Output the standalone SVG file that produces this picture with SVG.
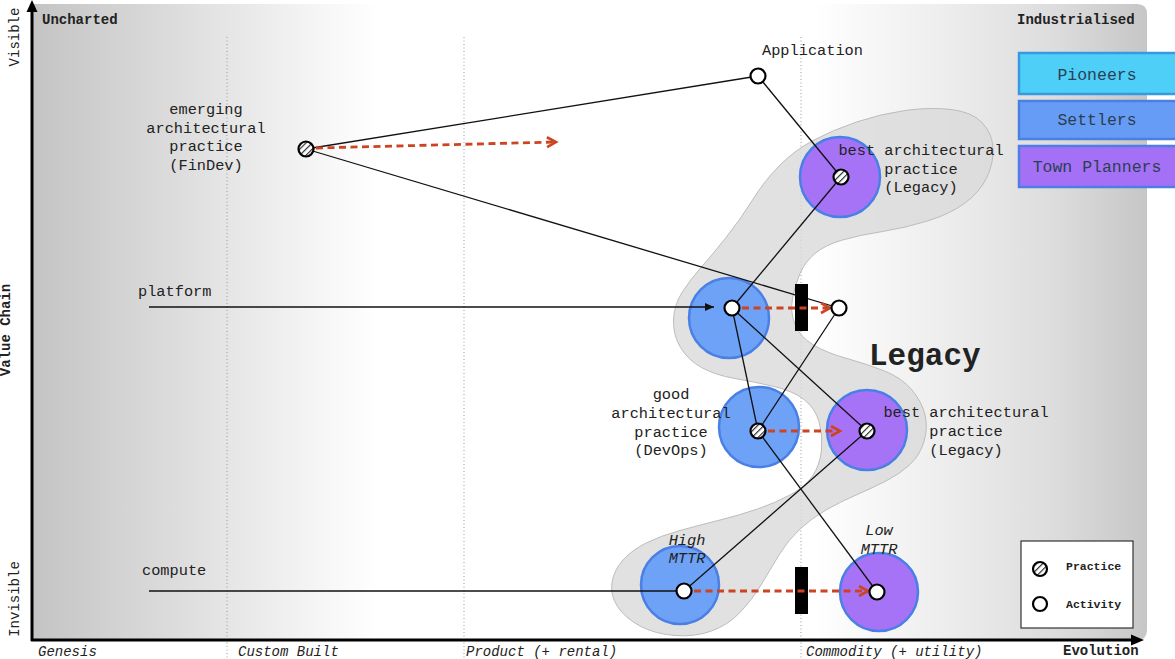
<svg xmlns="http://www.w3.org/2000/svg" width="1175" height="659" viewBox="0 0 1175 659">
<defs>
<linearGradient id="bg" gradientUnits="userSpaceOnUse" x1="33" y1="0" x2="1147" y2="0">
<stop offset="0" stop-color="#c4c4c4"/>
<stop offset="0.105" stop-color="#d8d8d8"/>
<stop offset="0.27" stop-color="#f8f8f8"/>
<stop offset="0.31" stop-color="#ffffff"/>
<stop offset="0.7" stop-color="#ffffff"/>
<stop offset="0.82" stop-color="#ededed"/>
<stop offset="0.92" stop-color="#dcdcdc"/>
<stop offset="1" stop-color="#c6c6c6"/>
</linearGradient>
<pattern id="hatch" patternUnits="userSpaceOnUse" width="4.4" height="4.4" patternTransform="rotate(45)">
<rect width="4.4" height="4.4" fill="#ffffff"/>
<line x1="0" y1="0" x2="0" y2="4.4" stroke="#333" stroke-width="2.4"/>
</pattern>
<marker id="redArrow" markerUnits="userSpaceOnUse" markerWidth="14" markerHeight="14" refX="11" refY="6" orient="auto">
<path d="M2,1 L11,6 L2,11" fill="none" stroke="#cc4422" stroke-width="2.6"/>
</marker>
<marker id="blkArrow" markerUnits="userSpaceOnUse" markerWidth="10" markerHeight="10" refX="9" refY="4" orient="auto">
<path d="M0,0 L9,4 L0,8 Z" fill="#111"/>
</marker>
<style>
.mono{font-family:"Liberation Mono","Courier New",monospace;fill:#222}
.lbl{font-size:15.3px}
.mid{text-anchor:middle}
.ax{font-size:14px}
.it{font-style:italic}
.b{font-weight:bold}
.dot{stroke:#9a9a9a;stroke-width:1;stroke-dasharray:1 2.5;fill:none}
.con{stroke:#111;stroke-width:1.3;fill:none}
.red{stroke:#cc4422;stroke-width:2.8;stroke-dasharray:7 4.5;fill:none;marker-end:url(#redArrow)}
.prac{fill:url(#hatch);stroke:#000;stroke-width:2.2}
.act{fill:#fff;stroke:#000;stroke-width:2.2}
.blue{fill:#6ea2f6;stroke:#4a80e6;stroke-width:2.5}
.purp{fill:#a773f6;stroke:#4a80e6;stroke-width:2.5}
.bar{fill:#000}
.leg{font-size:16.5px;text-anchor:middle;fill:#2b3f52}
</style>
</defs>

<!-- background -->
<path d="M33,4 H1137 Q1147,4 1147,14 V630 Q1147,640 1137,640 H33 Z" fill="url(#bg)"/>

<!-- evolution dividers -->
<g id="dividers">
<line class="dot" x1="227" y1="37" x2="227" y2="659"/>
<line class="dot" x1="464" y1="37" x2="464" y2="659"/>
<line class="dot" x1="801" y1="37" x2="801" y2="659"/>
</g>

<!-- legacy blob -->
<g id="legacy-region">
<path d="M 814,140 Q 833,130 856.5,122 Q 880,114 905,110.5 Q 930,107 951,109.5 Q 972,112 982,122.5 Q 992,133 993,147.5 Q 994,162 987,177 Q 980,192 965,203 Q 950,214 927.5,221 Q 905,228 882.5,231.5 Q 860,235 842.5,240 Q 825,245 815,253.5 Q 805,262 800,273.5 Q 795,285 792.5,298.5 Q 790,312 795,324.5 Q 800,337 813.5,345 Q 827,353 847,358.5 Q 867,364 884.5,371 Q 902,378 912,390 Q 922,402 925,415 Q 928,428 924,441.5 Q 920,455 910,464.5 Q 900,474 885,481.5 Q 870,489 855,495.5 Q 840,502 826,510 Q 812,518 800,529 Q 788,540 779,555 Q 770,570 761,585 Q 752,600 740,612.5 Q 728,625 711.5,631 Q 695,637 675,635.5 Q 655,634 640,626 Q 625,618 617.5,606.5 Q 610,595 612,582.5 Q 614,570 623,560 Q 632,550 646,543 Q 660,536 680,530.5 Q 700,525 720,520 Q 740,515 757.5,509 Q 775,503 790,495 Q 805,487 812.5,476 Q 820,465 821.5,450 Q 823,435 819,421.5 Q 815,408 804,399.5 Q 793,391 774,386.5 Q 755,382 735,378.5 Q 715,375 701.5,367.5 Q 688,360 680.5,347.5 Q 673,335 673.5,320 Q 674,305 682,292.5 Q 690,280 701,267.5 Q 712,255 726,237.5 Q 740,220 752.5,200 Q 765,180 780,165 Q 795,150 814,140 Z" fill="#d9d9d9" fill-opacity="0.8" stroke="#bcbcbc" stroke-width="1"/>
<text class="mono b" x="869" y="365" font-size="31px" fill="#000">Legacy</text>
</g>

<!-- capability circles -->
<g id="bands">
<circle class="purp" cx="840" cy="177" r="40"/>
<circle class="blue" cx="729" cy="318" r="40"/>
<circle class="blue" cx="759" cy="427" r="40"/>
<circle class="purp" cx="867" cy="430" r="40"/>
<circle class="blue" cx="680" cy="585" r="39"/>
<circle class="purp" cx="879" cy="592" r="39"/>
</g>

<!-- axes -->
<g id="axes">
<line x1="32" y1="10" x2="32" y2="641" stroke="#000" stroke-width="3"/>
<line x1="31" y1="640" x2="1132" y2="640" stroke="#000" stroke-width="3"/>
<path d="M32,0 L26.5,12 L37.5,12 Z" fill="#000"/>
<path d="M1144,640 L1131,634.5 L1131,645.5 Z" fill="#000"/>
<text class="mono ax b" x="42" y="24">Uncharted</text>
<text class="mono ax b" x="1017" y="24">Industrialised</text>
<text class="mono ax it" x="38" y="656">Genesis</text>
<text class="mono ax it" x="238" y="656">Custom Built</text>
<text class="mono ax it" x="466" y="656">Product (+ rental)</text>
<text class="mono ax it" x="806" y="656">Commodity (+ utility)</text>
<text class="mono ax b" x="1063" y="655">Evolution</text>
<text class="mono ax mid" transform="translate(19,37) rotate(-90)" font-size="14.5px">Visible</text>
<text class="mono ax b mid" transform="translate(10,330) rotate(-90)" font-size="13px">Value Chain</text>
<text class="mono ax mid" transform="translate(19,599) rotate(-90)" font-size="14.5px">Invisible</text>
</g>

<!-- connectors -->
<g id="connectors">
<line class="con" x1="306" y1="149" x2="758" y2="76"/>
<line class="con" x1="306" y1="149" x2="839" y2="308"/>
<line class="con" x1="758" y1="76" x2="841" y2="177"/>
<line class="con" x1="841" y1="177" x2="732" y2="308"/>
<line class="con" x1="732" y1="308" x2="758" y2="431"/>
<line class="con" x1="732" y1="308" x2="867" y2="431"/>
<line class="con" x1="839" y1="308" x2="758" y2="431"/>
<line class="con" x1="758" y1="431" x2="877" y2="592"/>
<line class="con" x1="867" y1="431" x2="684" y2="591"/>
<line class="con" x1="149" y1="307" x2="714" y2="307" marker-end="url(#blkArrow)"/>
<line class="con" x1="149" y1="591" x2="684" y2="591"/>
<rect class="bar" x="795" y="284" width="13" height="47"/>
<rect class="bar" x="795" y="567" width="13" height="47"/>
<line class="red" x1="316" y1="148" x2="556" y2="142"/>
<line class="red" x1="742" y1="308" x2="830" y2="308"/>
<line class="red" x1="768" y1="431" x2="840" y2="431"/>
<line class="red" x1="694" y1="591" x2="868" y2="591"/>
</g>

<!-- nodes -->
<g id="node-application">
<circle class="act" cx="758" cy="76" r="7.5"/>
<text class="mono lbl" x="762" y="55">Application</text>
</g>
<g id="node-findev">
<circle class="prac" cx="306" cy="149" r="7.5"/>
<text class="mono lbl mid" x="206" y="114">emerging</text>
<text class="mono lbl mid" x="206" y="133">architectural</text>
<text class="mono lbl mid" x="206" y="151">practice</text>
<text class="mono lbl mid" x="206" y="170">(FinDev)</text>
</g>
<g id="node-best-top">
<circle class="prac" cx="841" cy="177" r="7.5"/>
<text class="mono lbl mid" x="921" y="155">best architectural</text>
<text class="mono lbl mid" x="921" y="174">practice</text>
<text class="mono lbl mid" x="921" y="192">(Legacy)</text>
</g>
<g id="node-platform">
<circle class="act" cx="732" cy="308" r="7.5"/>
<text class="mono lbl" x="138" y="296">platform</text>
</g>
<g id="node-platform-future">
<circle class="act" cx="839" cy="308" r="7.5"/>
</g>
<g id="node-good">
<circle class="prac" cx="758" cy="431" r="7.5"/>
<text class="mono lbl mid" x="671" y="399">good</text>
<text class="mono lbl mid" x="671" y="418">architectural</text>
<text class="mono lbl mid" x="671" y="437">practice</text>
<text class="mono lbl mid" x="671" y="455">(DevOps)</text>
</g>
<g id="node-best-mid">
<circle class="prac" cx="867" cy="431" r="7.5"/>
<text class="mono lbl mid" x="966" y="417">best architectural</text>
<text class="mono lbl mid" x="966" y="436">practice</text>
<text class="mono lbl mid" x="966" y="455">(Legacy)</text>
</g>
<g id="node-compute">
<circle class="act" cx="684" cy="591" r="7.5"/>
<text class="mono lbl" x="142" y="575">compute</text>
<text class="mono lbl mid it" x="687" y="545">High</text>
<text class="mono lbl mid it" x="687" y="563">MTTR</text>
</g>
<g id="node-compute-future">
<circle class="act" cx="877" cy="592" r="7.5"/>
<text class="mono lbl mid it" x="879" y="535">Low</text>
<text class="mono lbl mid it" x="879" y="554">MTTR</text>
</g>

<!-- legend: roles -->
<g id="legend-roles">
<rect x="1019" y="53" width="160" height="41" fill="#4ecff8" stroke="#3a98e2" stroke-width="2.5"/>
<text class="mono leg" x="1097" y="80">Pioneers</text>
<rect x="1019" y="101" width="160" height="38" fill="#679cf6" stroke="#4a7fe4" stroke-width="2.5"/>
<text class="mono leg" x="1097" y="125">Settlers</text>
<rect x="1019" y="146" width="160" height="41" fill="#a470f6" stroke="#4d7de6" stroke-width="2.5"/>
<text class="mono leg" x="1097" y="172">Town Planners</text>
</g>

<!-- legend: symbols -->
<g id="legend-symbols">
<rect x="1021" y="541" width="112" height="87" fill="#fff" stroke="#333" stroke-width="1.2"/>
<circle class="prac" cx="1040" cy="569" r="7"/>
<text class="mono b" x="1066" y="570" font-size="11.5px">Practice</text>
<circle class="act" cx="1040" cy="604" r="7"/>
<text class="mono b" x="1066" y="608" font-size="11.5px">Activity</text>
</g>
</svg>
